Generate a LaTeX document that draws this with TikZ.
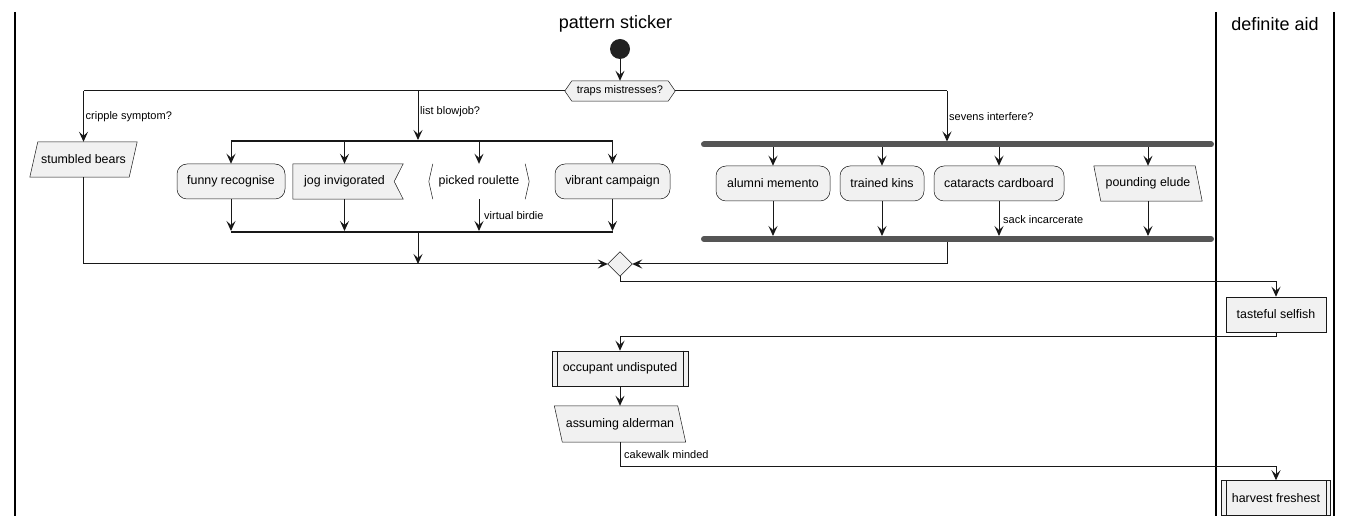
\documentclass[tikz,border=0pt]{standalone}
\usepackage{fontspec}
\setmainfont{Liberation Sans}
\usetikzlibrary{arrows.meta,calc}
\definecolor{fillc}{HTML}{F1F1F1}
\definecolor{strokec}{HTML}{181818}
\definecolor{barc}{HTML}{555555}
\definecolor{startc}{HTML}{222222}
\pgfdeclarelayer{bg}
\pgfsetlayers{bg,main}
\begin{document}
\begin{tikzpicture}[x=1pt,y=-1pt,
  conn/.style={draw=strokec,line width=1pt},
  arr/.style={conn,-{Stealth[length=10pt,width=9pt,inset=4pt]}},
  txt/.style={font=\fontsize{12.4}{14}\selectfont, text=black},
  body/.style={txt, inner sep=0pt, minimum height=35pt},
  rbox/.style={body, draw=strokec, fill=fillc, line width=0.5pt, rounded corners=10pt},
  sbox/.style={body, draw=strokec, fill=fillc, line width=0.5pt},
  ghost/.style={body},
  lbl/.style={font=\fontsize{11}{13}\selectfont, anchor=west, inner sep=0pt},
  outline/.style={draw=strokec, fill=fillc, line width=0.5pt},
  thin/.style={draw=strokec, line width=0.5pt},
  lane/.style={draw=black, line width=1.5pt},
  ttl/.style={font=\fontsize{18}{20}\selectfont},
  splitbar/.style={draw=strokec, line width=2pt},
  forkbar/.style={draw=barc, line width=6pt, line cap=round},
]
\useasboundingbox (0,0) rectangle (1352,526);

% swimlanes
\draw[lane] (15,12) -- (15,516);
\draw[lane] (1216,12) -- (1216,516);
\draw[lane] (1334,12) -- (1334,516);
\node[ttl] (t1) at (615.5,24) {pattern sticker};
\node[ttl] (t2) at (1275,24) {definite aid};

% start and decision
\node[circle, fill=startc, minimum size=20pt, inner sep=0pt] (start) at (620,49) {};
\node[font=\fontsize{11}{13}\selectfont, inner sep=0pt, minimum width=110pt, minimum height=20pt] (dec) at (620,91) {traps mistresses?};
\begin{pgfonlayer}{bg}
\path[outline] (dec.west) -- ($(dec.north west)+(7,0)$) -- ($(dec.north east)+(-7,0)$) -- (dec.east) -- ($(dec.south east)+(-7,0)$) -- ($(dec.south west)+(7,0)$) -- cycle;
\end{pgfonlayer}
\draw[arr] (start) -- (dec.north);

\coordinate (bL) at (83.5,91);
\coordinate (bM) at (418,91);
\coordinate (bR) at (947,91);
\draw[conn] (dec.west) -- (bL);
\draw[conn] (dec.east) -- (bR);
\node[lbl] (l1) at (85.5,117) {cripple symptom?};
\node[lbl] (l2) at (420,112) {list blowjob?};
\node[lbl] (l3) at (949,117) {sevens interfere?};

% left branch
\node[ghost, minimum width=99pt] (sb) at (83.5,159.5) {stumbled bears};
\begin{pgfonlayer}{bg}
\path[outline] ($(sb.north west)+(4,0)$) -- ($(sb.north east)+(4,0)$) -- ($(sb.south east)+(-4,0)$) -- ($(sb.south west)+(-4,0)$) -- cycle;
\end{pgfonlayer}
\draw[arr] (bL) -- (sb.north);

% middle split
\coordinate (s1a) at (231,141);
\coordinate (s1b) at (612.5,141);
\coordinate (s1m) at (418,140);
\coordinate (s2a) at (231,232);
\coordinate (s2b) at (612.5,232);
\coordinate (s2m) at (418,232);
\draw[arr] (bM) -- (s1m);
\draw[splitbar] (s1a) -- (s1b);
\draw[splitbar] (s2a) -- (s2b);

\node[rbox, minimum width=108pt] (fr) at (231,181.5) {funny recognise};
\node[ghost, minimum width=103pt] (jog) at (344.5,181.5) {jog invigorated};
\begin{pgfonlayer}{bg}
\path[outline] (jog.north west) -- ($(jog.north east)+(7,0)$) -- ($(jog.east)+(-2,0)$) -- ($(jog.south east)+(7,0)$) -- (jog.south west) -- cycle;
\end{pgfonlayer}
\node[ghost, minimum width=92pt] (pr) at (479,181.5) {picked roulette};
\draw[thin] (pr.north west) -- ($(pr.west)+(-4,0)$) -- (pr.south west);
\draw[thin] (pr.north east) -- ($(pr.east)+(4,0)$) -- (pr.south east);
\node[rbox, minimum width=115pt] (vc) at (612.5,181.5) {vibrant campaign};

\foreach \n in {fr,jog,pr,vc}{
  \draw[arr] (\n.north |- s1a) -- (\n.north);
  \draw[arr] (\n.south) -- ($(\n.south |- s2a)+(0,-1)$);
}
\node[lbl] (vb) at (484,216) {virtual birdie};

% merge
\node[inner sep=0pt, minimum width=24pt, minimum height=24pt] (merge) at (620,264) {};
\begin{pgfonlayer}{bg}
\path[outline] (merge.north) -- (merge.east) -- (merge.south) -- (merge.west) -- cycle;
\end{pgfonlayer}
\coordinate (mM) at (418,264);
\draw[arr] (s2m) -- (mM);
\draw[arr] (sb.south) |- (merge.west);

% right fork
\coordinate (f1a) at (704,144.5);
\coordinate (f1b) at (1211,144.5);
\coordinate (f1m) at (947,141.5);
\coordinate (f2a) at (704,239);
\coordinate (f2b) at (1211,239);
\coordinate (f2m) at (947,239);
\draw[arr] (bR) -- (f1m);

\node[rbox, minimum width=114pt] (am) at (773,183.5) {alumni memento};
\node[rbox, minimum width=84pt] (tk) at (882,183.5) {trained kins};
\node[rbox, minimum width=130pt] (cc) at (999,183.5) {cataracts cardboard};
\node[ghost, minimum width=101pt] (pe) at (1148,183.5) {pounding elude};
\begin{pgfonlayer}{bg}
\path[outline] ($(pe.north west)+(-3.5,0)$) -- ($(pe.north east)+(-3.5,0)$) -- ($(pe.south east)+(3.5,0)$) -- ($(pe.south west)+(3.5,0)$) -- cycle;
\end{pgfonlayer}
\foreach \n in {am,tk,cc,pe}{
  \draw[arr] (\n.north |- f1a) -- (\n.north);
  \draw[arr] (\n.south) -- ($(\n.south |- f2a)+(0,-3)$);
}
\node[lbl] (si) at (1003,220) {sack incarcerate};
\draw[arr] (f2m) |- (merge.east);
\draw[forkbar] (f1a) -- (f1b);
\draw[forkbar] (f2a) -- (f2b);

% lower flow
\node[sbox, minimum width=100pt] (ts) at (1276,314.5) {tasteful selfish};
\draw[arr] (merge.south) -- ++(0,5) -| (ts.north);

\node[sbox, minimum width=136pt] (ou) at (620,368.5) {occupant undisputed};
\draw[thin] ($(ou.north west)+(5,0)$) -- ($(ou.south west)+(5,0)$);
\draw[thin] ($(ou.north east)+(-5,0)$) -- ($(ou.south east)+(-5,0)$);
\draw[arr] (ts.south) -- ++(0,4) -| (ou.north);

\node[ghost, minimum width=123pt, minimum height=36pt] (aa) at (620,424) {assuming alderman};
\begin{pgfonlayer}{bg}
\path[outline] ($(aa.north west)+(-4,0)$) -- ($(aa.north east)+(-4,0)$) -- ($(aa.south east)+(4,0)$) -- ($(aa.south west)+(4,0)$) -- cycle;
\end{pgfonlayer}
\draw[arr] (ou.south) -- (aa.north);

\node[sbox, minimum width=109pt, minimum height=34.5pt] (hf) at (1276,497.75) {harvest freshest};
\draw[thin] ($(hf.north west)+(5,0)$) -- ($(hf.south west)+(5,0)$);
\draw[thin] ($(hf.north east)+(-5,0)$) -- ($(hf.south east)+(-5,0)$);
\draw[arr] (aa.south) -- ++(0,24) -| (hf.north);
\node[lbl] (cm) at (624,455) {cakewalk minded};
\end{tikzpicture}
\end{document}
